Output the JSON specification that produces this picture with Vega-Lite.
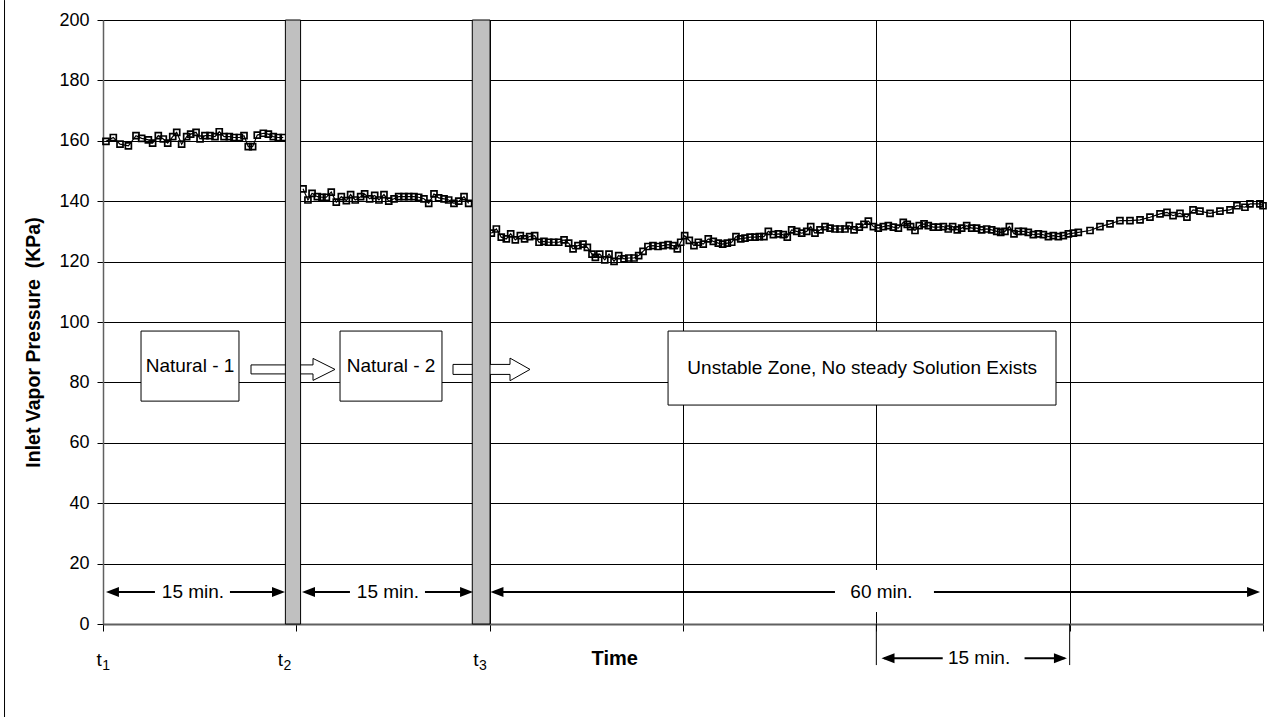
{
"$schema":"https://vega.github.io/schema/vega-lite/v6.json",
"width":1160,"height":604,"autosize":"none",
"padding":{"left":103,"top":20,"right":12,"bottom":93},
"background":"white",
"config":{"view":{"stroke":null},"font":"Liberation Sans"},
"datasets":{
"series":[
{"t":0.23,"v":159.8,"s":1},{"t":0.8,"v":161.1,"s":1},{"t":1.32,"v":158.9,"s":1},{"t":1.97,"v":158.3,"s":1},{"t":2.56,"v":161.7,"s":1},{"t":3.0,"v":160.8,"s":1},{"t":3.52,"v":160.3,"s":1},{"t":3.85,"v":159.2,"s":1},{"t":4.29,"v":161.7,"s":1},{"t":4.68,"v":160.6,"s":1},{"t":5.02,"v":159.2,"s":1},{"t":5.41,"v":161.4,"s":1},{"t":5.72,"v":162.8,"s":1},{"t":6.1,"v":158.9,"s":1},{"t":6.49,"v":161.4,"s":1},{"t":6.8,"v":162.2,"s":1},{"t":7.22,"v":162.8,"s":1},{"t":7.53,"v":160.6,"s":1},{"t":7.91,"v":161.7,"s":1},{"t":8.3,"v":161.7,"s":1},{"t":8.69,"v":161.4,"s":1},{"t":9.02,"v":163,"s":1},{"t":9.39,"v":161.4,"s":1},{"t":9.8,"v":161.4,"s":1},{"t":10.16,"v":161.1,"s":1},{"t":10.58,"v":161.1,"s":1},{"t":10.94,"v":161.7,"s":1},{"t":11.27,"v":158.1,"s":1},{"t":11.61,"v":158.1,"s":1},{"t":11.97,"v":161.9,"s":1},{"t":12.44,"v":162.5,"s":1},{"t":12.83,"v":162.2,"s":1},{"t":13.21,"v":161.4,"s":1},{"t":13.6,"v":161.1,"s":1},{"t":13.99,"v":161.1,"s":1},
{"t":15.52,"v":144.1,"s":2},{"t":15.9,"v":140.4,"s":2},{"t":16.22,"v":142.6,"s":2},{"t":16.63,"v":141.5,"s":2},{"t":16.99,"v":141.3,"s":2},{"t":17.33,"v":141.3,"s":2},{"t":17.71,"v":143,"s":2},{"t":18.1,"v":139.7,"s":2},{"t":18.49,"v":141.5,"s":2},{"t":18.88,"v":140.2,"s":2},{"t":19.21,"v":142.2,"s":2},{"t":19.57,"v":140.4,"s":2},{"t":19.99,"v":141.5,"s":2},{"t":20.3,"v":142.4,"s":2},{"t":20.69,"v":140.8,"s":2},{"t":21.08,"v":141.9,"s":2},{"t":21.41,"v":140.4,"s":2},{"t":21.8,"v":142.2,"s":2},{"t":22.17,"v":140,"s":2},{"t":22.58,"v":140.8,"s":2},{"t":22.94,"v":141.5,"s":2},{"t":23.35,"v":141.5,"s":2},{"t":23.72,"v":141.5,"s":2},{"t":24.13,"v":141.5,"s":2},{"t":24.49,"v":141.3,"s":2},{"t":24.9,"v":140.8,"s":2},{"t":25.27,"v":139.3,"s":2},{"t":25.68,"v":142.4,"s":2},{"t":26.04,"v":141.1,"s":2},{"t":26.46,"v":140.8,"s":2},{"t":26.82,"v":140.4,"s":2},{"t":27.23,"v":139.3,"s":2},{"t":27.6,"v":140,"s":2},{"t":28.01,"v":141.5,"s":2},{"t":28.37,"v":139.3,"s":2},
{"t":30.13,"v":129.4,"s":3},{"t":30.52,"v":130.8,"s":3},{"t":30.9,"v":128.1,"s":3},{"t":31.29,"v":127.5,"s":3},{"t":31.63,"v":129.2,"s":3},{"t":31.99,"v":127.2,"s":3},{"t":32.38,"v":128.6,"s":3},{"t":32.71,"v":127.5,"s":3},{"t":33.1,"v":128.3,"s":3},{"t":33.49,"v":128.6,"s":3},{"t":33.83,"v":126.4,"s":3},{"t":34.21,"v":126.7,"s":3},{"t":34.58,"v":126.4,"s":3},{"t":34.97,"v":126.4,"s":3},{"t":35.36,"v":126.4,"s":3},{"t":35.77,"v":127.2,"s":3},{"t":36.13,"v":126.1,"s":3},{"t":36.47,"v":124.2,"s":3},{"t":36.85,"v":125.3,"s":3},{"t":37.24,"v":125.8,"s":3},{"t":37.58,"v":124.7,"s":3},{"t":37.94,"v":122.5,"s":3},{"t":38.2,"v":121.4,"s":3},{"t":38.54,"v":122.5,"s":3},{"t":38.93,"v":120.6,"s":3},{"t":39.26,"v":122.5,"s":3},{"t":39.65,"v":120.1,"s":3},{"t":40.01,"v":122,"s":3},{"t":40.42,"v":120.9,"s":3},{"t":40.79,"v":121.2,"s":3},{"t":41.2,"v":121.2,"s":3},{"t":41.56,"v":122,"s":3},{"t":41.9,"v":123.4,"s":3},{"t":42.28,"v":125,"s":3},{"t":42.67,"v":125.3,"s":3},{"t":43.06,"v":125,"s":3},{"t":43.45,"v":125.3,"s":3},{"t":43.84,"v":125.6,"s":3},{"t":44.23,"v":125.3,"s":3},{"t":44.56,"v":124.2,"s":3},{"t":44.82,"v":126.4,"s":3},{"t":45.13,"v":128.6,"s":3},
{"t":45.49,"v":127,"s":3},{"t":45.85,"v":125.3,"s":3},{"t":46.19,"v":126.4,"s":3},{"t":46.57,"v":125.8,"s":3},{"t":46.96,"v":127.5,"s":3},{"t":47.35,"v":126.7,"s":3},{"t":47.74,"v":126.1,"s":3},{"t":48.08,"v":125.8,"s":3},{"t":48.44,"v":126.1,"s":3},{"t":48.78,"v":126.4,"s":3},{"t":49.11,"v":128.3,"s":3},{"t":49.48,"v":127.5,"s":3},{"t":49.81,"v":127.8,"s":3},{"t":50.2,"v":128.1,"s":3},{"t":50.59,"v":128.1,"s":3},{"t":50.92,"v":128.3,"s":3},{"t":51.28,"v":128.3,"s":3},{"t":51.62,"v":130,"s":3},{"t":52.01,"v":128.9,"s":3},{"t":52.4,"v":129.2,"s":3},{"t":52.78,"v":128.9,"s":3},{"t":53.09,"v":128.1,"s":3},{"t":53.43,"v":130.5,"s":3},{"t":53.82,"v":130,"s":3},{"t":54.21,"v":129.4,"s":3},{"t":54.6,"v":130,"s":3},{"t":54.91,"v":131.6,"s":3},{"t":55.24,"v":129.4,"s":3},{"t":55.63,"v":130.5,"s":3},{"t":56.02,"v":131.6,"s":3},{"t":56.41,"v":131.1,"s":3},{"t":56.79,"v":130.8,"s":3},{"t":57.18,"v":130.8,"s":3},{"t":57.57,"v":130.8,"s":3},{"t":57.9,"v":131.9,"s":3},{"t":58.27,"v":130.5,"s":3},{"t":58.68,"v":131.4,"s":3},{"t":59.04,"v":132.3,"s":3},{"t":59.38,"v":133.4,"s":3},{"t":59.77,"v":131.6,"s":3},{"t":60.15,"v":131.1,"s":3},{"t":60.54,"v":131.6,"s":3},{"t":60.93,"v":131.9,"s":3},
{"t":61.32,"v":131.4,"s":3},{"t":61.71,"v":131.1,"s":3},{"t":62.09,"v":133,"s":3},{"t":62.4,"v":132.3,"s":3},{"t":62.66,"v":131.6,"s":3},{"t":63.0,"v":130.3,"s":3},{"t":63.33,"v":131.9,"s":3},{"t":63.7,"v":132.5,"s":3},{"t":64.03,"v":131.9,"s":3},{"t":64.42,"v":131.4,"s":3},{"t":64.81,"v":131.4,"s":3},{"t":65.2,"v":131.6,"s":3},{"t":65.58,"v":130.8,"s":3},{"t":65.92,"v":131.6,"s":3},{"t":66.28,"v":130.5,"s":3},{"t":66.62,"v":131.1,"s":3},{"t":67.01,"v":131.9,"s":3},{"t":67.4,"v":131.1,"s":3},{"t":67.78,"v":131.1,"s":3},{"t":68.17,"v":130.5,"s":3},{"t":68.56,"v":130.8,"s":3},{"t":68.95,"v":130.5,"s":3},{"t":69.34,"v":130,"s":3},{"t":69.65,"v":129.7,"s":3},{"t":69.98,"v":130,"s":3},{"t":70.32,"v":131.6,"s":3},{"t":70.68,"v":129.2,"s":3},{"t":71.02,"v":130,"s":3},{"t":71.41,"v":130,"s":3},{"t":71.79,"v":129.7,"s":3},{"t":72.18,"v":128.9,"s":3},{"t":72.57,"v":129.2,"s":3},{"t":72.96,"v":128.9,"s":3},{"t":73.35,"v":128.3,"s":3},{"t":73.73,"v":128.6,"s":3},{"t":74.12,"v":128.3,"s":3},{"t":74.51,"v":128.6,"s":3},{"t":74.9,"v":129.2,"s":3},{"t":75.29,"v":129.4,"s":3},{"t":75.67,"v":129.7,"s":3},
{"t":76.58,"v":130.3,"s":3},{"t":77.35,"v":131.6,"s":3},{"t":78.13,"v":132.5,"s":3},{"t":78.9,"v":133.6,"s":3},{"t":79.68,"v":133.6,"s":3},{"t":80.46,"v":133.8,"s":3},{"t":81.23,"v":134.7,"s":3},{"t":82.01,"v":135.8,"s":3},{"t":82.55,"v":136.3,"s":3},{"t":83.02,"v":135.2,"s":3},{"t":83.56,"v":136,"s":3},{"t":84.1,"v":134.7,"s":3},{"t":84.57,"v":137.1,"s":3},{"t":85.11,"v":136.7,"s":3},{"t":85.89,"v":136,"s":3},{"t":86.66,"v":136.7,"s":3},{"t":87.44,"v":137.1,"s":3},{"t":87.98,"v":138.5,"s":3},{"t":88.6,"v":138,"s":3},{"t":88.99,"v":139.1,"s":3},{"t":89.76,"v":139.1,"s":3},{"t":90.0,"v":138.5,"s":3}
],
"border":[{"t":-7.64,"v":206.6,"v2":-30.8}],
"gap":[{"t":57.2,"t2":63.8,"v":17.9,"v2":4.0}],
"barrow1":[{"t":18.0,"v":84.3}],
"barrow2":[{"t":33.13,"v":84.3}],
"bars":[{"t":14.15,"t2":15.33,"v":0,"v2":200},{"t":28.65,"t2":30.03,"v":0,"v2":200}],
"boxes":[{"t":2.95,"t2":10.55,"v":97,"v2":73.8},{"t":18.39,"t2":26.3,"v":97,"v2":73.8},{"t":43.84,"t2":73.94,"v":97,"v2":72.5}],
"boxtext":[{"t":6.75,"v":85.4,"txt":"Natural - 1"},{"t":22.35,"v":85.4,"txt":"Natural - 2"},{"t":58.9,"v":84.8,"txt":"Unstable Zone, No steady Solution Exists"}],
"alines":[{"t":0.5,"t2":4.03,"v":10.6},{"t":9.85,"t2":13.9,"v":10.6},{"t":15.7,"t2":19.16,"v":10.6},{"t":24.98,"t2":28.45,"v":10.6},{"t":30.3,"t2":56.79,"v":10.6},{"t":64.47,"t2":89.5,"v":10.6},{"t":60.6,"t2":65.15,"v":-11.3},{"t":71.5,"t2":74.6,"v":-11.3}],
"headsR":[{"t":14.12,"v":10.6},{"t":28.71,"v":10.6},{"t":89.77,"v":10.6},{"t":74.79,"v":-11.3}],
"headsL":[{"t":0.23,"v":10.6},{"t":15.44,"v":10.6},{"t":30.06,"v":10.6},{"t":60.4,"v":-11.3}],
"atext":[{"t":6.98,"v":10.6,"txt":"15 min."},{"t":22.11,"v":10.6,"txt":"15 min."},{"t":60.4,"v":10.6,"txt":"60 min."},{"t":67.97,"v":-11.3,"txt":"15 min."}],
"bracket":[{"t":60,"v":0,"v2":-13.6},{"t":75,"v":0,"v2":-13.6}],
"tl":[{"t":-0.29,"v":-11.9,"txt":"t","sub":"1"},{"t":13.77,"v":-11.9,"txt":"t","sub":"2"},{"t":28.94,"v":-11.9,"txt":"t","sub":"3"}],
"timel":[{"t":39.7,"v":-11.6,"txt":"Time"}]
},
"encoding":{
"x":{"field":"t","type":"quantitative","scale":{"domain":[0,90],"nice":false,"zero":false},
"axis":{"values":[0,15,30,45,60,75,90],"labels":false,"title":null,"grid":true,"gridColor":"#000","gridWidth":1,"gridOpacity":1,"tickSize":7,"tickColor":"#000","tickWidth":1,"domainColor":"#606060","domainWidth":2}},
"y":{"field":"v","type":"quantitative","scale":{"domain":[0,200],"nice":false,"zero":false},
"axis":{"values":[0,20,40,60,80,100,120,140,160,180,200],"grid":true,"gridColor":"#000","gridWidth":1,"gridOpacity":1,"tickSize":6,"tickColor":"#000","tickWidth":1,"labelFontSize":18,"labelColor":"#000","labelPadding":8,"labelFont":"Liberation Sans","domainColor":"#606060","domainWidth":1.5,"title":"Inlet Vapor Pressure \u00a0(KPa)","titleFontSize":19.5,"titleFontWeight":"bold","titleColor":"#000","titleFont":"Liberation Sans","titleX":-70,"titleY":322,"titleBaseline":"middle","titleAngle":-90,"titleAlign":"center"}}
},
"layer":[
{"data":{"name":"border"},"mark":{"type":"rule","color":"#000","strokeWidth":1},"encoding":{"y2":{"field":"v2"}}},
{"data":{"name":"gap"},"mark":{"type":"rect","fill":"white","strokeWidth":0},"encoding":{"x2":{"field":"t2"},"y2":{"field":"v2"}}},
{"data":{"name":"series"},"mark":{"type":"line","color":"#000","strokeWidth":1.2},"encoding":{"detail":{"field":"s","type":"nominal"}}},
{"data":{"name":"series"},"mark":{"type":"point","shape":"square","filled":false,"size":36,"stroke":"#000","strokeWidth":1.7,"opacity":1}},
{"data":{"name":"barrow1"},"mark":{"type":"point","shape":"M0,0L-2.2,-1.1L-2.2,-0.45L-8.4,-0.45L-8.4,0.45L-2.2,0.45L-2.2,1.1Z","size":400,"filled":true,"fill":"white","stroke":"#000","strokeWidth":1,"opacity":1}},
{"data":{"name":"barrow2"},"mark":{"type":"point","shape":"M0,0L-2,-1.13L-2,-0.5L-7.7,-0.5L-7.7,0.5L-2,0.5L-2,1.13Z","size":400,"filled":true,"fill":"white","stroke":"#000","strokeWidth":1,"opacity":1}},
{"data":{"name":"bars"},"mark":{"type":"rect","fill":"#c0c0c0","stroke":"#000","strokeWidth":1},"encoding":{"x2":{"field":"t2"},"y2":{"field":"v2"}}},
{"data":{"name":"boxes"},"mark":{"type":"rect","fill":"white","stroke":"#000","strokeWidth":1},"encoding":{"x2":{"field":"t2"},"y2":{"field":"v2"}}},
{"data":{"name":"boxtext"},"mark":{"type":"text","font":"Liberation Sans","fontSize":19,"color":"#000","align":"center","baseline":"middle"},"encoding":{"text":{"field":"txt"}}},
{"data":{"name":"alines"},"mark":{"type":"rule","color":"#000","strokeWidth":2},"encoding":{"x2":{"field":"t2"}}},
{"data":{"name":"headsR"},"mark":{"type":"point","shape":"M0,0L-2.6,-1L-2.6,1Z","size":100,"filled":true,"fill":"#000","strokeWidth":0,"opacity":1}},
{"data":{"name":"headsL"},"mark":{"type":"point","shape":"M0,0L2.6,-1L2.6,1Z","size":100,"filled":true,"fill":"#000","strokeWidth":0,"opacity":1}},
{"data":{"name":"atext"},"mark":{"type":"text","font":"Liberation Sans","fontSize":19,"color":"#000","align":"center","baseline":"middle"},"encoding":{"text":{"field":"txt"}}},
{"data":{"name":"bracket"},"mark":{"type":"rule","color":"#000","strokeWidth":1},"encoding":{"y2":{"field":"v2"}}},
{"data":{"name":"tl"},"mark":{"type":"text","font":"Liberation Sans","fontSize":19,"color":"#000","align":"center","baseline":"middle"},"encoding":{"text":{"field":"txt"}}},
{"data":{"name":"tl"},"mark":{"type":"text","font":"Liberation Sans","fontSize":14,"color":"#000","align":"center","baseline":"middle","dx":7,"dy":6},"encoding":{"text":{"field":"sub"}}},
{"data":{"name":"timel"},"mark":{"type":"text","font":"Liberation Sans","fontSize":20,"fontWeight":"bold","color":"#000","align":"center","baseline":"middle"},"encoding":{"text":{"field":"txt"}}}
]
}
